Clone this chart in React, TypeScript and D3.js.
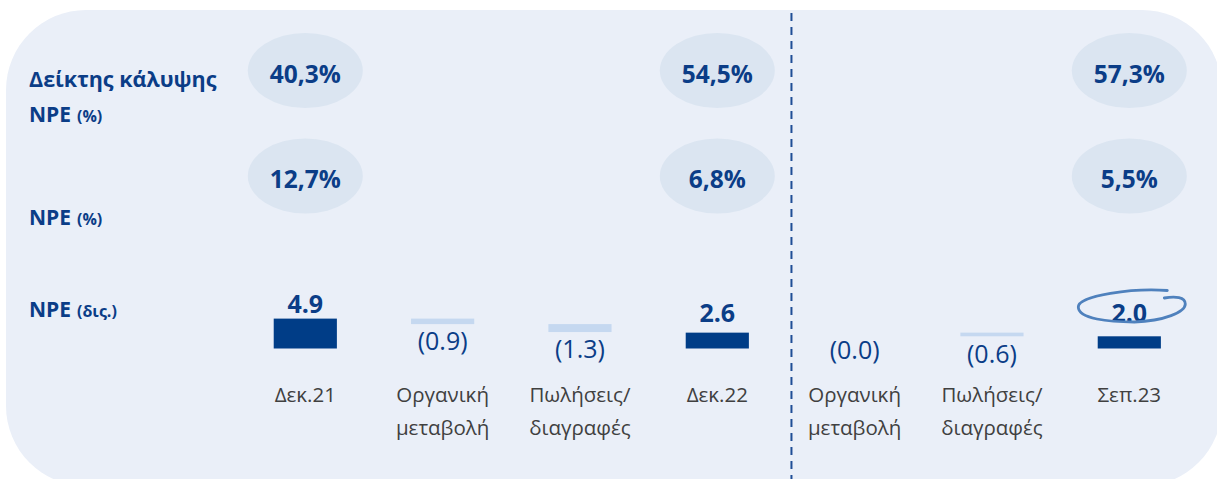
import React from "react";
import * as d3 from "d3";

// ---- data ----
const categoryLabels: string[][] = [
  ["Δεκ.21"],
  ["Οργανική", "μεταβολή"],
  ["Πωλήσεις/", "διαγραφές"],
  ["Δεκ.22"],
  ["Οργανική", "μεταβολή"],
  ["Πωλήσεις/", "διαγραφές"],
  ["Σεπ.23"],
];
const barKinds = ["total", "delta", "delta", "total", "delta", "delta", "total"];
const npeValues = [4.9, -0.9, -1.3, 2.6, -0.0, -0.6, 2.0];

const periodIndex = [0, 3, 6];
const coverageRatio = [40.3, 54.5, 57.3];
const npeRatio = [12.7, 6.8, 5.5];

const rowLabels = ["Δείκτης κάλυψης", "NPE", "NPE", "NPE"];
const rowUnits = ["", "(%)", "(%)", "(δις.)"];

// ---- style ----
const W = 1217;
const H = 479;
const FONT = "'Open Sans', 'Noto Sans', sans-serif";
const DARK = "#003d87";
const TEXT_BLUE = "#0b3d87";
const LIGHT = "#c5d8f0";
const BG = "#eaeff8";
const ELL = "#dbe5f1";
const GRAY = "#404040";

export default function App() {
  const x = d3
    .scalePoint<number>()
    .domain(d3.range(categoryLabels.length))
    .range([305.3, 1129.3]);
  const step = x.step();
  const bw = step * 0.46;

  const y = d3.scaleLinear().domain([0, 5]).range([348.5, 348.5 - 30.5]);

  // waterfall geometry
  let running = 0;
  const bars = npeValues.map((v, i) => {
    let start: number, end: number;
    if (barKinds[i] === "total") {
      start = 0;
      end = v;
    } else {
      start = running;
      end = running + v;
    }
    running = end;
    return { i, v, start, end, kind: barKinds[i] };
  });

  const fmtPct = (v: number) => v.toFixed(1).replace(".", ",") + "%";
  const fmtBar = (v: number, kind: string) =>
    kind === "delta" ? `(${Math.abs(v).toFixed(1)})` : v.toFixed(1);

  const labelRow = 321.7;
  const lastCx = x(6)!;
  const lcy = 310;
  const loop = d3.path();
  loop.moveTo(lastCx + 38, lcy - 19.5);
  loop.bezierCurveTo(lastCx + 5, lcy - 22, lastCx - 51, lcy - 15, lastCx - 51, lcy - 3);
  loop.bezierCurveTo(lastCx - 51, lcy + 9, lastCx - 20, lcy + 12, lastCx + 5, lcy + 12);
  loop.bezierCurveTo(lastCx + 35, lcy + 11, lastCx + 56, lcy + 2, lastCx + 56, lcy - 6);
  loop.bezierCurveTo(lastCx + 56, lcy - 13, lastCx + 46, lcy - 14, lastCx + 35, lcy - 12);

  const dividerX = x(3)! + step * 0.54;

  const rowBaselines = [87, 122, 225, 317];

  return (
    <svg
      width={W}
      height={H}
      style={{ position: "absolute", left: 0, top: 0, display: "block" }}
      fontFamily={FONT}
    >
      <rect x={0} y={0} width={W} height={H} fill="#ffffff" />
      <rect x={6} y={10} width={1216} height={476} rx={80} ry={80} fill={BG} />

      {/* row labels */}
      <text x={29} y={rowBaselines[0]} fill={TEXT_BLUE} fontWeight={700} fontSize={21.5}>
        {rowLabels[0]}
      </text>
      {[1, 2, 3].map((r) => (
        <text key={r} x={29} y={rowBaselines[r]} fill={TEXT_BLUE} fontWeight={700} fontSize={21}>
          {rowLabels[r]}
          <tspan fontSize={16} dx={6}>
            {rowUnits[r]}
          </tspan>
        </text>
      ))}

      {/* ratio ellipses */}
      {periodIndex.map((pi, k) => (
        <g key={"e" + k}>
          <ellipse cx={x(pi)!} cy={70.5} rx={57.5} ry={37.5} fill={ELL} />
          <text
            x={x(pi)!}
            y={83}
            textAnchor="middle"
            fill={TEXT_BLUE}
            fontWeight={700}
            fontSize={24.5}
          >
            {fmtPct(coverageRatio[k])}
          </text>
          <ellipse cx={x(pi)!} cy={176} rx={57.5} ry={37.5} fill={ELL} />
          <text
            x={x(pi)!}
            y={188}
            textAnchor="middle"
            fill={TEXT_BLUE}
            fontWeight={700}
            fontSize={24.5}
          >
            {fmtPct(npeRatio[k])}
          </text>
        </g>
      ))}

      {/* divider */}
      <line
        x1={dividerX}
        x2={dividerX}
        y1={13}
        y2={H}
        stroke="#1f4e96"
        strokeWidth={2}
        strokeDasharray="8 6"
      />

      {/* waterfall bars */}
      {bars.map((b) => {
        const top = y(Math.max(b.start, b.end));
        const bottom = y(Math.min(b.start, b.end));
        const cx = x(b.i)!;
        const isTotal = b.kind === "total";
        return (
          <g key={"b" + b.i}>
            <rect
              x={cx - bw / 2}
              y={top}
              width={bw}
              height={Math.max(0, bottom - top)}
              fill={isTotal ? DARK : LIGHT}
            />
            {isTotal ? (
              <text
                x={cx}
                y={Math.min(top - 6, labelRow)}
                textAnchor="middle"
                fill={TEXT_BLUE}
                fontWeight={700}
                fontSize={25}
              >
                {fmtBar(b.v, b.kind)}
              </text>
            ) : (
              <text
                x={cx}
                y={bottom + 3}
                dy="0.93em"
                textAnchor="middle"
                fill={TEXT_BLUE}
                fontSize={25}
              >
                {fmtBar(b.v, b.kind)}
              </text>
            )}
          </g>
        );
      })}

      {/* hand-drawn highlight */}
      <path d={loop.toString()} fill="none" stroke="#4f81bd" strokeWidth={2.8} strokeLinecap="round" />

      {/* category labels */}
      {categoryLabels.map((lines, i) => (
        <text key={"c" + i} x={x(i)!} y={401.7} textAnchor="middle" fill={GRAY} fontSize={20.5}>
          {lines.map((ln, j) => (
            <tspan key={j} x={x(i)!} dy={j === 0 ? 0 : 33}>
              {ln}
            </tspan>
          ))}
        </text>
      ))}
    </svg>
  );
}
